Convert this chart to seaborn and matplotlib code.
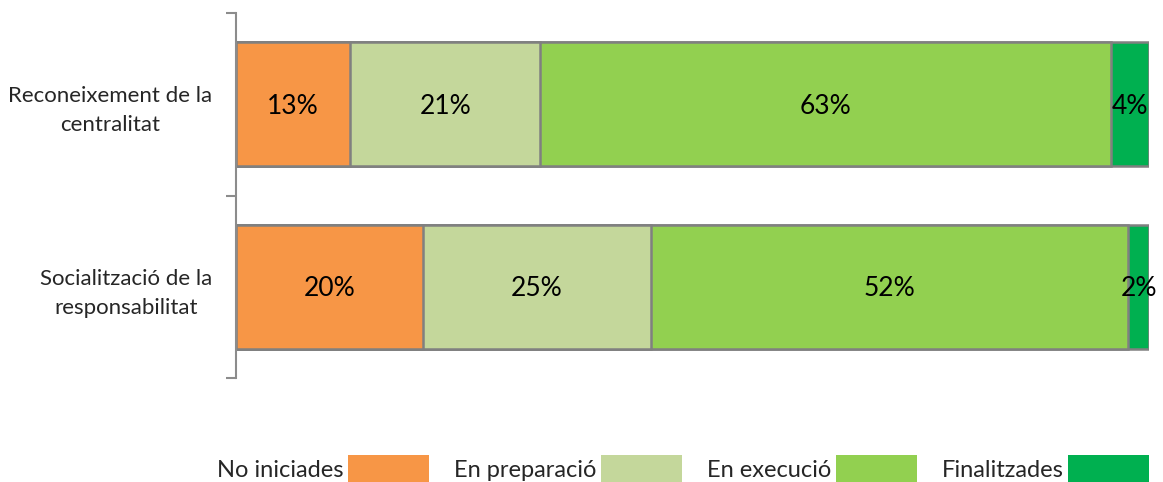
import numpy as np
import pandas as pd
import matplotlib
matplotlib.use("Agg")
import matplotlib.pyplot as plt
import seaborn as sns
from matplotlib.patches import Patch

# data (percentage of actions by status)
categories = ["Reconeixement de la\ncentralitat", "Socialització de la\nresponsabilitat"]
statuses = ["No iniciades", "En preparació", "En execució", "Finalitzades"]
no_iniciades = [12.50, 20.45]
en_preparacio = [20.83, 25.00]
en_execucio = [62.50, 52.27]
finalitzades = [4.17, 2.27]

colors = ["#F79646", "#C4D79B", "#92D050", "#00B050"]

series = [no_iniciades, en_preparacio, en_execucio, finalitzades]
df = pd.DataFrame({"categoria": categories})
for name, vals in zip(statuses, series):
    df[name] = vals
cum = df[statuses].cumsum(axis=1)

sns.set_theme(style="white")
plt.rcParams["font.family"] = ["Lato", "DejaVu Sans"]

fig = plt.figure(figsize=(11.63, 4.82), dpi=100)
ax = fig.add_axes([236 / 1163, 1 - 378 / 482, (1149 - 236) / 1163, (378 - 13) / 482])

# stacked bars: draw cumulative totals from largest to smallest
for name, color in reversed(list(zip(statuses, colors))):
    sns.barplot(x=cum[name], y=df["categoria"], orient="h", color=color,
                saturation=1, width=0.68, edgecolor="#808080", linewidth=1.8,
                errorbar=None, ax=ax)

# value labels centred in each segment
for i in range(len(categories)):
    for name in statuses:
        v = df.loc[i, name]
        center = cum.loc[i, name] - v / 2
        ax.text(center, i + 0.01, f"{int(np.floor(v + 0.5))}%", ha="center", va="center",
                fontsize=19, color="black")

ax.set_xlim(0, cum[statuses[-1]].max())
ax.set_ylim(1.5, -0.5)
ax.set_xlabel("")
ax.set_ylabel("")
ax.set_xticks([])

for s in ["top", "right", "bottom"]:
    ax.spines[s].set_visible(False)
ax.spines["left"].set_color("#8c8c8c")
ax.spines["left"].set_linewidth(1.5)

ax.set_yticks(range(len(categories)))
ax.set_yticklabels(categories, fontsize=16, ha="right", multialignment="center",
                   linespacing=1.55)
ax.tick_params(axis="y", which="major", length=0, pad=17)
ax.set_yticks([-0.5, 0.5, 1.5], minor=True)
ax.tick_params(axis="y", which="minor", length=7, width=1.5, color="#8c8c8c", left=True)

handles = [Patch(facecolor=c, edgecolor="none") for c in colors]
fig.legend(handles, statuses, loc="lower right", bbox_to_anchor=(1149 / 1163, 0),
           ncol=4, markerfirst=False, frameon=False, fontsize=17,
           handlelength=3.43, handleheight=1.36, handletextpad=0.2,
           columnspacing=1.05, borderpad=0, borderaxespad=0)

fig.savefig("out.png", dpi=100)
plt.close(fig)
